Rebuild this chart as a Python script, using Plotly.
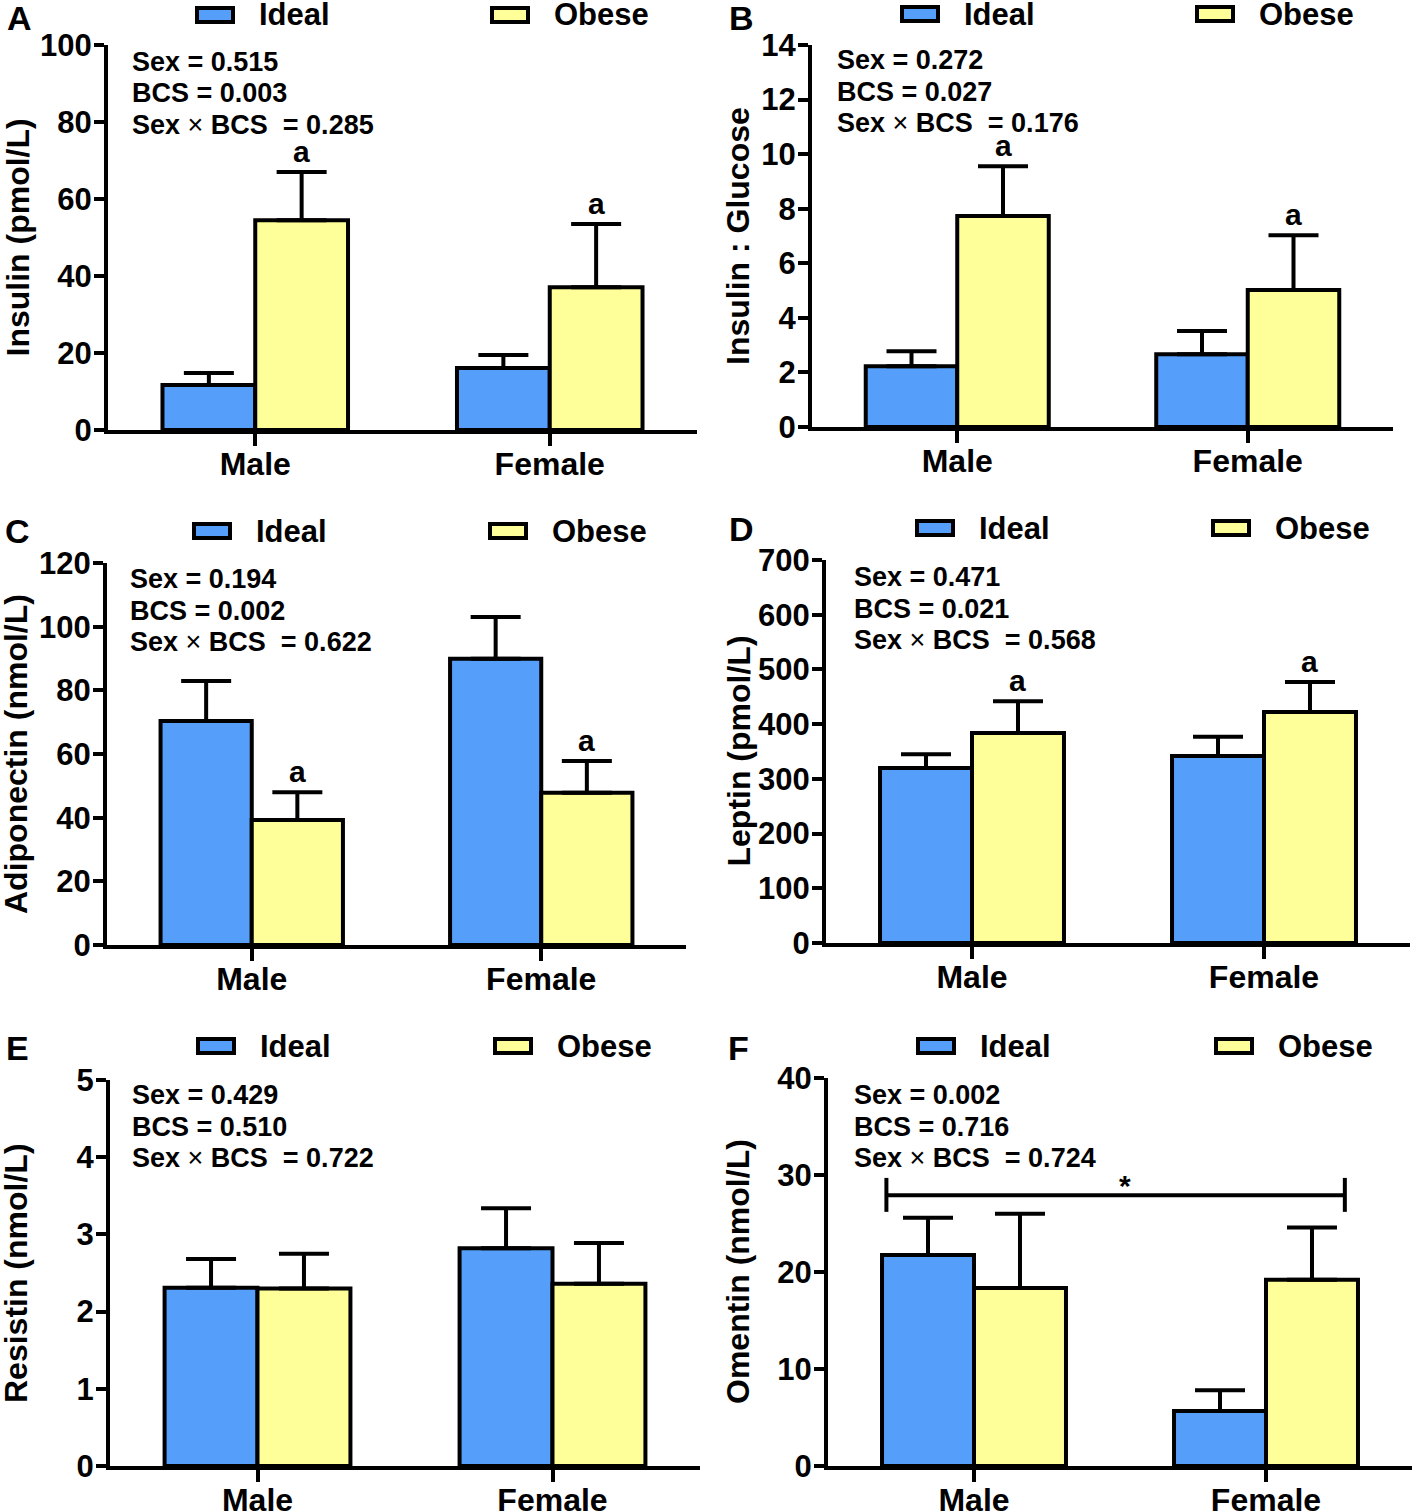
import plotly.graph_objects as go

W, H = 1418, 1512

sexes = ["Male", "Female"]
groups = ["Ideal", "Obese"]

# means and upper error (SEM), order = Male, Female
insulin_ideal = [11.7, 16.1]
insulin_ideal_se = [3.1, 3.4]
insulin_obese = [54.5, 37.1]
insulin_obese_se = [12.5, 16.4]

ratio_ideal = [2.23, 2.67]
ratio_ideal_se = [0.55, 0.85]
ratio_obese = [7.73, 5.02]
ratio_obese_se = [1.83, 2.01]

adipo_ideal = [70.4, 89.9]
adipo_ideal_se = [12.5, 13.1]
adipo_obese = [39.3, 47.8]
adipo_obese_se = [8.7, 10.0]

leptin_ideal = [320, 342]
leptin_ideal_se = [25, 35]
leptin_obese = [384, 422]
leptin_obese_se = [58, 55]

resistin_ideal = [2.31, 2.82]
resistin_ideal_se = [0.37, 0.52]
resistin_obese = [2.30, 2.36]
resistin_obese_se = [0.45, 0.53]

omentin_ideal = [21.75, 5.67]
omentin_ideal_se = [3.85, 2.13]
omentin_obese = [18.35, 19.2]
omentin_obese_se = [7.65, 5.4]

pvals = [
    ["0.515", "0.003", "0.285"],
    ["0.272", "0.027", "0.176"],
    ["0.194", "0.002", "0.622"],
    ["0.471", "0.021", "0.568"],
    ["0.429", "0.510", "0.722"],
    ["0.002", "0.716", "0.724"],
]
ytitles = ["Insulin (pmol/L)", "Insulin : Glucose", "Adiponectin (nmol/L)",
           "Leptin (pmol/L)", "Resistin (nmol/L)", "Omentin (nmol/L)"]
yranges = [(100, 20), (14, 2), (120, 20), (700, 100), (5, 1), (40, 10)]
letters = ["A", "B", "C", "D", "E", "F"]
sig_obese = [True, True, True, True, False, False]

panels = [
    (insulin_ideal, insulin_ideal_se, insulin_obese, insulin_obese_se),
    (ratio_ideal, ratio_ideal_se, ratio_obese, ratio_obese_se),
    (adipo_ideal, adipo_ideal_se, adipo_obese, adipo_obese_se),
    (leptin_ideal, leptin_ideal_se, leptin_obese, leptin_obese_se),
    (resistin_ideal, resistin_ideal_se, resistin_obese, resistin_obese_se),
    (omentin_ideal, omentin_ideal_se, omentin_obese, omentin_obese_se),
]

BLUE = "#559ffa"
YELLOW = "#ffff99"
FONT = "Liberation Sans, Arial, sans-serif"

# pixel layout of each panel: x-axis span, y-axis span (top, bottom)
boxes = [
    (108, 697, 45, 430),
    (812, 1393, 45, 427),
    (107, 686, 563, 945),
    (826, 1410, 560, 943),
    (110, 700, 1080, 1466),
    (828, 1412, 1078, 1466),
]
# legend key left edges and row y; p-value text anchor; panel letter; y title x
legend_pos = [(197, 492, 15), (902, 1197, 14), (194, 490, 531), (917, 1213, 528), (198, 495, 1046), (918, 1216, 1046)]
ptext_pos = [(130, 62), (835, 60), (128, 579), (852, 577), (130, 1095), (852, 1095)]
letter_pos = [(19, 18), (741, 18), (17, 531), (741, 529), (17, 1048), (738, 1048)]
ytitle_x = [18, 738, 16, 738, 16, 738]


def px(x):
    return x / W


def py(y):
    return 1 - y / H


fig = go.Figure()
shapes = []
annotations = []
BW = 0.63 / 2  # bar width in category units

for i, (ideal, ideal_se, obese, obese_se) in enumerate(panels):
    n = "" if i == 0 else str(i + 1)
    xa, ya = "x" + n, "y" + n
    for vals, errs, color, name in [(ideal, ideal_se, BLUE, "Ideal"), (obese, obese_se, YELLOW, "Obese")]:
        fig.add_trace(go.Bar(
            x=sexes, y=vals, name=name, xaxis=xa, yaxis=ya, showlegend=False,
            marker=dict(color=color, line=dict(color="black", width=4)),
            error_y=dict(type="data", array=errs, arrayminus=[0, 0], symmetric=False,
                         color="black", thickness=4, width=25),
        ))
    x0, x1, yt, yb = boxes[i]
    top, step = yranges[i]
    fig.layout["xaxis" + n] = dict(
        domain=[px(x0), px(x1)], anchor=ya, showline=True, linewidth=4, linecolor="black",
        ticks="outside", ticklen=12, tickwidth=4, tickcolor="black", automargin=False,
        ticklabelstandoff=-9,
        tickfont=dict(family=FONT, size=32, color="black", weight="bold"), showgrid=False, zeroline=False,
        range=[-0.5, 1.5], fixedrange=True,
    )
    fig.layout["yaxis" + n] = dict(
        domain=[py(yb), py(yt)], anchor=xa, range=[0, top], tickmode="linear", tick0=0, dtick=step,
        showline=True, linewidth=4, linecolor="black", ticks="outside", ticklen=10, tickwidth=4,
        ticklabelstandoff=-4,
        tickcolor="black", tickfont=dict(family=FONT, size=31, color="black", weight="bold"),
        showgrid=False, zeroline=False, automargin=False,
    )
    # y-axis title
    annotations.append(dict(x=px(ytitle_x[i]), y=py((yt + yb) / 2), xref="paper", yref="paper",
                            text="<b>" + ytitles[i] + "</b>", textangle=-90, showarrow=False,
                            xanchor="center", yanchor="middle",
                            font=dict(family=FONT, size=32, color="black")))
    # significance letters above obese bars
    if sig_obese[i]:
        for k in range(2):
            annotations.append(dict(
                x=k + BW / 2, y=obese[k] + obese_se[k], xref=xa, yref=ya, text="<b>a</b>",
                showarrow=False, yanchor="bottom", yshift=2,
                font=dict(family=FONT, size=30, color="black")))
    # p-values
    tx, ty = ptext_pos[i]
    s, b, sb = pvals[i]
    for j, line in enumerate(["Sex = " + s, "BCS = " + b, "Sex <span style='font-weight:normal'>×</span> BCS  = " + sb]):
        annotations.append(dict(
            x=px(tx), y=py(ty + j * 31.5), xref="paper", yref="paper", text="<b>" + line + "</b>",
            showarrow=False, xanchor="left", yanchor="middle",
            font=dict(family=FONT, size=27, color="black")))
    # panel letter
    lx, ly = letter_pos[i]
    annotations.append(dict(x=px(lx), y=py(ly), xref="paper", yref="paper", text="<b>" + letters[i] + "</b>",
                            showarrow=False, xanchor="center", yanchor="middle",
                            font=dict(family=FONT, size=34, color="black")))
    # legend keys
    ka, kb, ky = legend_pos[i]
    for kx, color, name in [(ka, BLUE, "Ideal"), (kb, YELLOW, "Obese")]:
        shapes.append(dict(type="rect", xref="paper", yref="paper", x0=px(kx), x1=px(kx + 36),
                           y0=py(ky + 7), y1=py(ky - 7), fillcolor=color, line=dict(color="black", width=4)))
        annotations.append(dict(x=px(kx + 60), y=py(ky), xref="paper", yref="paper",
                                text="<b>" + name + "</b>",
                                showarrow=False, xanchor="left", yanchor="middle",
                                font=dict(family=FONT, size=31, color="black")))

# omentin: sex comparison bracket
bx0, bx1, by = -0.30, 1.27, 27.9
shapes += [
    dict(type="line", xref="x6", yref="y6", x0=bx0, x1=bx1, y0=by, y1=by, line=dict(color="black", width=4)),
    dict(type="line", xref="x6", yref="y6", x0=bx0, x1=bx0, y0=26.2, y1=29.7, line=dict(color="black", width=4)),
    dict(type="line", xref="x6", yref="y6", x0=bx1, x1=bx1, y0=26.2, y1=29.7, line=dict(color="black", width=4)),
]
annotations.append(dict(x=0.517, y=by, xref="x6", yref="y6", text="<b>*</b>", showarrow=False,
                        yanchor="middle", yshift=10, font=dict(family=FONT, size=30, color="black")))

fig.update_layout(
    width=W, height=H, margin=dict(l=0, r=0, t=0, b=0),
    plot_bgcolor="white", paper_bgcolor="white",
    barmode="group", bargap=0.37, bargroupgap=0,
    shapes=shapes, annotations=annotations,
)

# drop the default page margin so the figure sits at the window's corner
fig.write_html("out.html", config={"displayModeBar": False},
               post_script="document.body.style.margin = '0px';")
